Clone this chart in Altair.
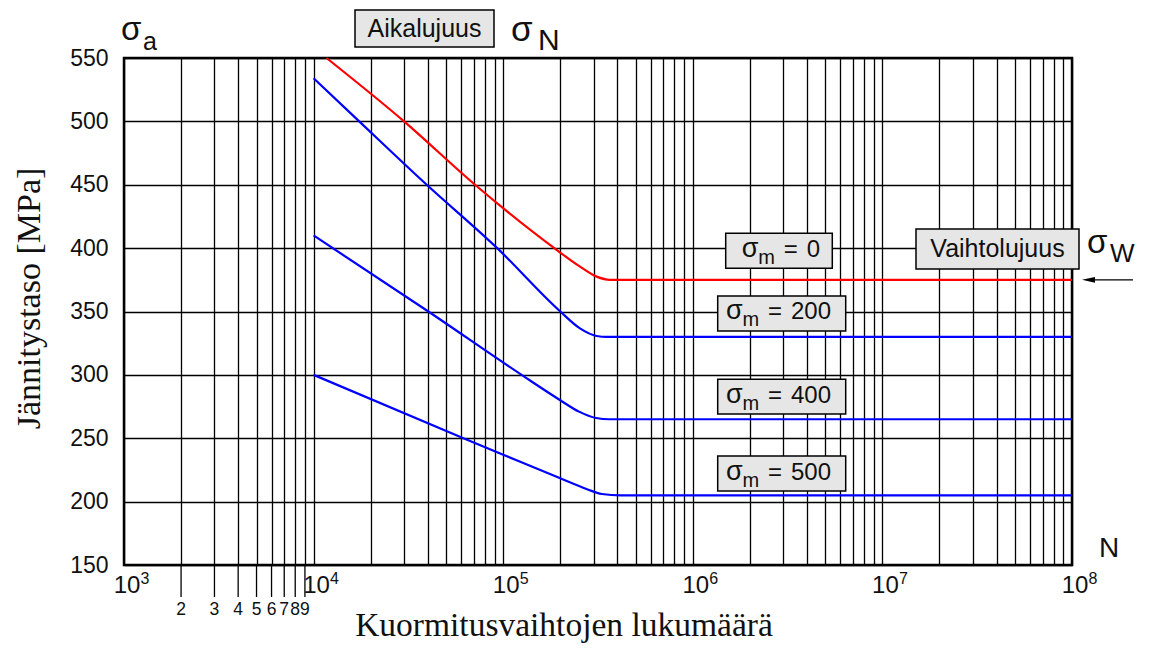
import altair as alt
import pandas as pd

# ---- curve data ----
n_s0 = [11700, 30000, 71000, 186000, 254000, 311000, 366000, 1e8]
s_s0 = [550, 500, 450, 400, 385.4, 377.5, 375, 375]
n_s200 = [10000, 17400, 39500, 93000, 200000, 254000, 311000, 352000, 1e8]
s_s200 = [534, 500, 450, 400, 350, 336.7, 330.7, 330, 330]
n_s400 = [10000, 40300, 125000, 200000, 251000, 309000, 363000, 1e8]
s_s400 = [410, 350, 300, 280, 271, 266, 265, 265]
n_s500 = [10000, 61700, 100000, 200000, 275000, 331000, 417000, 1e8]
s_s500 = [300, 250, 237, 218.4, 210, 206, 205, 205]

series_names = ["sm0", "sm200", "sm400", "sm500"]
series_colors = ["#ff0000", "#0000ff", "#0000ff", "#0000ff"]

# ---- axis data ----
decades = [1e3, 1e4, 1e5, 1e6, 1e7, 1e8]
decade_exponents = ["3", "4", "5", "6", "7", "8"]
minor_multipliers = [2, 3, 4, 5, 6, 7, 8, 9]
y_ticks = [150, 200, 250, 300, 350, 400, 450, 500, 550]

# ---- build tables ----
rows = []
for name, ns, ss in zip(series_names, [n_s0, n_s200, n_s400, n_s500],
                        [s_s0, s_s200, s_s400, s_s500]):
    for n, s in zip(ns, ss):
        rows.append({"series": name, "N": n, "sigma": s})
df = pd.DataFrame(rows)

grid_vals = [m * d for d in decades[:-1] for m in [1] + minor_multipliers] + [decades[-1]]
df_dec = pd.DataFrame({"N": decades, "exp": decade_exponents})
df_minor = pd.DataFrame({"N": [m * decades[0] for m in minor_multipliers],
                         "lab": [str(m) for m in minor_multipliers]})
one = pd.DataFrame({"k": [0]})

SANS = "Liberation Sans"
SERIF = "Liberation Serif"

xs = alt.Scale(type="log", domain=[1e3, 1e8], nice=False)
ys = alt.Scale(domain=[150, 550], nice=False, zero=False)
x_axis = alt.Axis(values=grid_vals, labels=False, ticks=False, domain=False, grid=True,
                  gridColor="#000000", gridWidth=1.3, gridOpacity=1, title="")
y_axis = alt.Axis(values=y_ticks, ticks=False, domain=False, grid=True,
                  gridColor="#000000", gridWidth=1.3, gridOpacity=1,
                  labelFont=SANS, labelFontSize=23, labelColor="#111111",
                  labelPadding=16, title="")
X = alt.X("N:Q", scale=xs, axis=x_axis)

lines = alt.Chart(df).mark_line(interpolate="monotone", strokeWidth=2.2).encode(
    x=X,
    y=alt.Y("sigma:Q", scale=ys, axis=y_axis),
    color=alt.Color("series:N", scale=alt.Scale(domain=series_names, range=series_colors),
                    legend=None),
)

minor_ticks = alt.Chart(df_minor).mark_rule(color="black", strokeWidth=1.3).encode(
    x=X, y=alt.value(507), y2=alt.value(539))
minor_labels = alt.Chart(df_minor).mark_text(
    font=SANS, fontSize=17.5, align="center", baseline="alphabetic", color="#111111"
).encode(x=X, y=alt.value(557), text="lab:N")
dec_labels = alt.Chart(df_dec).mark_text(
    font=SANS, fontSize=24, align="center", baseline="alphabetic", dx=3, color="#111111",
    text="10").encode(x=X, y=alt.value(535))
dec_exp = alt.Chart(df_dec).mark_text(
    font=SANS, fontSize=16, align="left", baseline="alphabetic", dx=16.5, color="#111111"
).encode(x=X, y=alt.value(526), text="exp:N")


def label(text, x, y, size, font=SANS, align="left", angle=0):
    kw = dict(text=text, align=align, baseline="alphabetic", fontSize=size, font=font,
              color="#111111")
    if angle:
        kw["angle"] = angle
    return alt.Chart(one).mark_text(**kw).encode(x=alt.value(x), y=alt.value(y))


def box(x1, y1, x2, y2):
    return alt.Chart(one).mark_rect(fill="#e6e6e6", stroke="black", strokeWidth=1.5).encode(
        x=alt.value(x1), x2=alt.value(x2), y=alt.value(y1), y2=alt.value(y2))


annos = []
# titles
annos.append(label("Kuormitusvaihtojen lukumäärä", 440, 578, 33.5, font=SERIF, align="center"))
annos.append(label("Jännitystaso [MPa]", -84, 240.5, 34, font=SERIF, align="center", angle=270))
# sigma_a
annos.append(label("σ", -3, -18, 33))
annos.append(label("a", 19, -8, 25))
# Aikalujuus + sigma_N
annos.append(box(231, -48, 370, -11))
annos.append(label("Aikalujuus", 300.5, -21, 25, align="center"))
annos.append(label("σ", 387, -17, 35))
annos.append(label("N", 414, -8, 30))
# N on x axis
annos.append(label("N", 975, 499, 28))
# sigma_m boxes
sm_boxes = [
    ((601.7, 175.3, 708.3, 210.3), 617.7, 199.3, "0"),
    ((593.7, 238, 721.7, 273), 602, 261.3, "200"),
    ((593.7, 321.3, 721.7, 356), 602, 344.7, "400"),
    ((593.7, 398, 721.7, 433), 602, 421.5, "500"),
]
for (bx1, by1, bx2, by2), L, base, num in sm_boxes:
    annos.append(box(bx1, by1, bx2, by2))
    annos.append(label("σ", L, base, 27))
    annos.append(label("m", L + 16.5, base + 7, 20))
    annos.append(label("=", L + 42, base, 24))
    annos.append(label(num, L + 65, base, 24))
# Vaihtolujuus + sigma_W + arrow
annos.append(box(792, 171, 955, 211))
annos.append(label("Vaihtolujuus", 873.5, 199, 25, align="center"))
annos.append(label("σ", 963, 195, 33))
annos.append(label("W", 986, 204, 26))
arrow_line = alt.Chart(one).mark_rule(color="black", strokeWidth=1.3).encode(
    x=alt.value(966), x2=alt.value(1009), y=alt.datum(375))
arrow_head = alt.Chart(one).mark_point(
    shape="M -1 0 L 1 -0.45 L 1 0.45 Z", filled=True, size=169, color="black", opacity=1
).encode(x=alt.value(964.5), y=alt.datum(375))

chart = alt.layer(lines, minor_ticks, minor_labels, dec_labels, dec_exp,
                  arrow_line, arrow_head, *annos).properties(
    width=948, height=507,
    padding={"left": 116, "top": 50, "right": 70, "bottom": 80},
    autosize="none",
    background="white",
).configure_view(stroke="black", strokeWidth=2.5)

chart.save("out.html", embed_options={"renderer": "svg", "actions": False})
